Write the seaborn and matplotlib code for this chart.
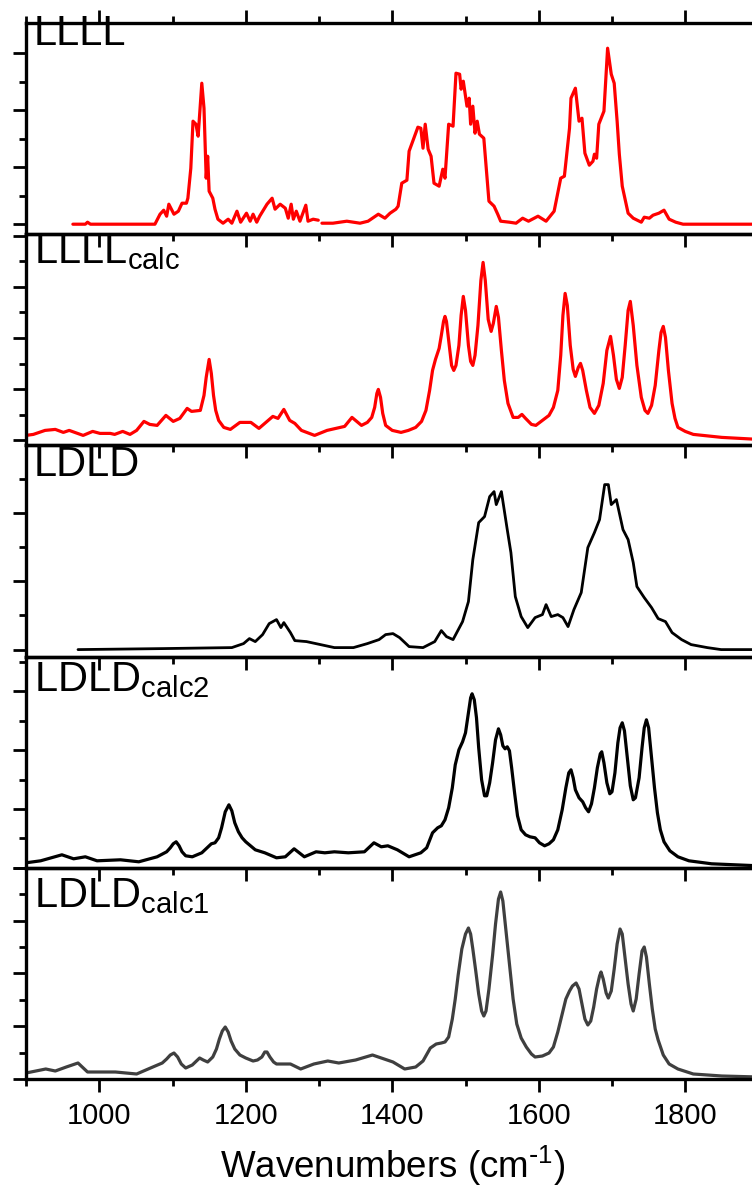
import matplotlib
matplotlib.use("Agg")
import matplotlib.pyplot as plt
from matplotlib.ticker import MultipleLocator, FixedLocator
import seaborn as sns
import pandas as pd

# ---- data (wavenumber, intensity in arbitrary units) ----
llll_a_x = [964, 981, 984, 988, 1076, 1083, 1088, 1092, 1095, 1102, 1108, 1113, 1119, 1121, 1125,
            1128, 1132, 1135, 1140, 1143, 1146, 1148, 1150, 1155, 1158, 1162, 1169, 1176, 1181,
            1188, 1193, 1201, 1206, 1210, 1215, 1219, 1229, 1236, 1240, 1247, 1254, 1258, 1262,
            1265, 1269, 1274, 1282, 1285, 1292, 1299]
llll_a_y = [10, 10, 12, 10, 10, 20, 24, 18, 30, 20, 23, 31, 31, 36, 66,
            113, 110, 98, 151, 126, 56, 78, 43, 36, 25, 15, 11, 15, 11,
            23, 12, 21, 13, 20, 12, 18, 30, 36, 25, 30, 26, 16, 30,
            15, 23, 13, 29, 13, 15, 14]
llll_b_x = [1304, 1319, 1338, 1356, 1367, 1381, 1390, 1397, 1405, 1408, 1413, 1420, 1423, 1430,
            1435, 1439, 1442, 1445, 1449, 1453, 1457, 1464, 1469, 1472, 1477, 1483, 1487, 1492,
            1494, 1497, 1502, 1505, 1507, 1510, 1513, 1516, 1519, 1525, 1529, 1532, 1539, 1544,
            1548, 1560, 1569, 1578, 1586, 1599, 1610, 1621, 1630, 1635, 1642, 1644, 1650, 1655,
            1659, 1663, 1669, 1674, 1676, 1679, 1682, 1689, 1694, 1699, 1703, 1707, 1710, 1714,
            1722, 1729, 1740, 1744, 1751, 1756, 1764, 1771, 1778, 1787, 1797, 1900]
llll_b_y = [11, 11, 13, 11, 13, 20, 16, 21, 25, 28, 51, 54, 83, 97,
            107, 106, 86, 110, 85, 78, 51, 48, 65, 56, 110, 108, 161, 160,
            145, 153, 128, 136, 110, 128, 101, 113, 100, 96, 60, 33, 28, 20,
            13, 12, 11, 16, 13, 18, 13, 23, 56, 58, 106, 136, 146, 113,
            116, 81, 69, 73, 80, 76, 110, 123, 186, 160, 151, 113, 80, 48,
            21, 16, 12, 17, 16, 19, 21, 24, 15, 12, 10, 10]

lcalc_x = [900, 910, 926, 940, 951, 959, 978, 991, 1001, 1015, 1021, 1032, 1042, 1051, 1061,
           1069, 1079, 1091, 1101, 1110, 1120, 1126, 1138, 1143, 1146, 1150, 1153, 1156, 1159,
           1163, 1170, 1179, 1192, 1207, 1218, 1237, 1244, 1252, 1260, 1267, 1276, 1294, 1311,
           1329, 1335, 1345, 1358, 1366, 1372, 1376, 1379, 1381, 1384, 1387, 1391, 1400, 1412,
           1422, 1432, 1440, 1446, 1451, 1455, 1459, 1464, 1467, 1470, 1472, 1474, 1477, 1481,
           1484, 1487, 1491, 1494, 1497, 1500, 1504, 1507, 1510, 1513, 1517, 1521, 1524, 1527,
           1531, 1535, 1538, 1542, 1545, 1549, 1553, 1558, 1565, 1572, 1577, 1582, 1590, 1596,
           1605, 1614, 1620, 1626, 1630, 1633, 1636, 1639, 1643, 1647, 1650, 1654, 1657, 1660,
           1665, 1670, 1676, 1682, 1688, 1693, 1698, 1702, 1706, 1710, 1714, 1718, 1722, 1725,
           1729, 1734, 1740, 1745, 1749, 1754, 1759, 1764, 1767, 1770, 1773, 1777, 1782, 1786,
           1790, 1800, 1811, 1850, 1900]
lcalc_y = [10, 11, 15, 16, 13, 15, 10, 14, 12, 12, 11, 14, 11, 15, 24,
           21, 20, 30, 24, 27, 37, 34, 35, 50, 68, 86, 72, 50, 35,
           25, 18, 16, 23, 23, 17, 29, 27, 36, 25, 22, 15, 10, 15,
           18, 19, 28, 20, 23, 28, 38, 52, 56, 48, 32, 20, 15, 13,
           15, 18, 24, 35, 55, 75, 86, 97, 110, 124, 129, 124, 105, 80,
           75, 80, 100, 130, 149, 135, 100, 84, 80, 90, 120, 165, 183, 165,
           126, 114, 122, 139, 128, 95, 65, 42, 28, 28, 31, 27, 21, 20,
           25, 30, 38, 55, 90, 130, 152, 140, 100, 76, 69, 78, 82, 75,
           55, 38, 32, 40, 62, 95, 109, 90, 66, 57, 68, 100, 135, 144,
           120, 80, 48, 35, 32, 40, 60, 95, 113, 119, 108, 75, 42, 27,
           18, 14, 11, 8, 6]

ldld_x = [971, 1086, 1181, 1197, 1205, 1213, 1223, 1232, 1242, 1248, 1252, 1261, 1267, 1283,
          1302, 1321, 1347, 1366, 1382, 1391, 1401, 1410, 1423, 1442, 1458, 1467, 1474, 1483,
          1496, 1504, 1510, 1518, 1526, 1533, 1539, 1542, 1549, 1557, 1562, 1568, 1576, 1585,
          1595, 1605, 1610, 1617, 1626, 1633, 1640, 1648, 1658, 1667, 1676, 1683, 1690, 1695,
          1699, 1706, 1715, 1722, 1729, 1734, 1744, 1754, 1763, 1773, 1782, 1795, 1808, 1830,
          1849, 1900]
ldld_y = [7, 8, 9, 13, 18, 15, 22, 33, 37, 29, 34, 24, 16, 15,
          12, 9, 9, 13, 17, 22, 23, 19, 10, 9, 15, 26, 20, 17,
          35, 55, 97, 134, 140, 160, 165, 152, 165, 127, 104, 60, 40, 29,
          39, 42, 52, 40, 42, 39, 30, 47, 64, 109, 124, 137, 172, 172,
          152, 157, 127, 117, 94, 70, 59, 49, 38, 35, 24, 17, 12, 9,
          7, 7]

calc2_x = [900, 920, 949, 965, 981, 997, 1029, 1054, 1079, 1092, 1097, 1101, 1105, 1109, 1113,
           1118, 1127, 1140, 1153, 1158, 1163, 1167, 1172, 1177, 1181, 1185, 1190, 1195, 1200,
           1213, 1226, 1242, 1254, 1266, 1280, 1296, 1308, 1321, 1340, 1362, 1375, 1385, 1394,
           1407, 1423, 1439, 1447, 1455, 1462, 1467, 1472, 1477, 1482, 1486, 1491, 1496, 1500,
           1504, 1507, 1509, 1512, 1515, 1518, 1522, 1526, 1529, 1533, 1537, 1541, 1545, 1548,
           1551, 1554, 1557, 1560, 1563, 1567, 1571, 1576, 1582, 1588, 1595, 1601, 1608, 1614,
           1620, 1626, 1632, 1637, 1641, 1644, 1647, 1650, 1655, 1660, 1664, 1668, 1672, 1676,
           1680, 1684, 1686, 1689, 1693, 1697, 1700, 1704, 1708, 1711, 1714, 1717, 1721, 1725,
           1729, 1732, 1737, 1741, 1744, 1747, 1750, 1754, 1758, 1762, 1766, 1771, 1779, 1790,
           1805, 1836, 1900]
calc2_y = [5, 7, 13, 9, 11, 7, 8, 6, 11, 16, 20, 24, 26, 22, 16,
           12, 11, 15, 24, 25, 30, 40, 56, 63, 57, 45, 36, 30, 26,
           18, 15, 10, 11, 19, 11, 16, 15, 16, 15, 16, 25, 21, 22,
           18, 11, 15, 20, 35, 40, 42, 48, 60, 80, 103, 118, 126, 135,
           155, 170, 174, 168, 150, 120, 88, 72, 72, 85, 105, 128, 139, 133,
           122, 119, 121, 117, 100, 75, 52, 38, 33, 31, 30, 25, 22, 24,
           28, 38, 58, 80, 95, 98, 90, 78, 70, 66, 60, 56, 64, 80,
           100, 114, 116, 105, 85, 74, 76, 95, 125, 140, 145, 137, 110, 82,
           68, 70, 90, 120, 140, 148, 140, 110, 80, 55, 38, 26, 17, 11,
           7, 4, 2]

calc1_x = [900, 927, 940, 955, 971, 984, 1022, 1051, 1070, 1086, 1092, 1097, 1102, 1107, 1112,
           1118, 1127, 1137, 1142, 1148, 1155, 1160, 1164, 1168, 1172, 1176, 1180, 1185, 1192,
           1200, 1210, 1216, 1222, 1226, 1229, 1233, 1238, 1242, 1261, 1275, 1293, 1312, 1327,
           1350, 1373, 1385, 1401, 1417, 1432, 1442, 1452, 1460, 1467, 1472, 1477, 1482, 1486,
           1490, 1495, 1500, 1504, 1507, 1510, 1514, 1518, 1522, 1525, 1528, 1532, 1537, 1541,
           1545, 1548, 1551, 1555, 1560, 1565, 1570, 1576, 1583, 1590, 1595, 1605, 1614, 1620,
           1626, 1632, 1637, 1642, 1646, 1651, 1655, 1659, 1663, 1667, 1671, 1675, 1679, 1683,
           1685, 1688, 1692, 1695, 1699, 1703, 1707, 1711, 1714, 1718, 1722, 1726, 1729, 1733,
           1737, 1741, 1744, 1747, 1751, 1755, 1759, 1763, 1770, 1778, 1790, 1811, 1850, 1900]
calc1_y = [6, 10, 8, 12, 16, 7, 7, 5, 11, 16, 20, 24, 26, 22, 15,
           11, 14, 21, 19, 17, 22, 30, 40, 48, 52, 47, 38, 30, 24,
           21, 18, 19, 22, 27, 27, 22, 17, 15, 15, 10, 15, 18, 16,
           19, 24, 21, 17, 10, 12, 18, 31, 35, 36, 37, 42, 60, 80,
           104, 130, 145, 151, 145, 130, 108, 85, 68, 63, 68, 90, 124, 155,
           180, 187, 178, 150, 115, 80, 55, 41, 32, 25, 22, 23, 26, 32,
           47, 65, 80, 88, 93, 96, 90, 75, 60, 54, 58, 72, 90, 103,
           107, 100, 86, 81, 88, 110, 135, 150, 145, 120, 95, 75, 68, 80,
           105, 128, 132, 122, 95, 70, 50, 39, 24, 15, 10, 5, 3, 2]

labels = ["LLLL", "LLLL$_{calc}$", "LDLD", "LDLD$_{calc2}$", "LDLD$_{calc1}$"]
colors = ["#ff0000", "#ff0000", "#000000", "#000000", "#3f3f3f"]
widths = [2.3, 2.3, 2.0, 2.3, 2.3]

# tick layout on the left axis of each panel: (first tick, spacing, count)
ytick_specs = [(10, 28.5, 7), (5, 25.6, 9), (7, 34.2, 7), (0, 29.4, 8), (0, 26.4, 9)]
label_drop = [22, 29, 31, 35, 39]

series = [
    [(llll_a_x, llll_a_y), (llll_b_x, llll_b_y)],
    [(lcalc_x, lcalc_y)],
    [(ldld_x, ldld_y)],
    [(calc2_x, calc2_y)],
    [(calc1_x, calc1_y)],
]

sns.set_style("ticks")
plt.rcParams["font.family"] = ["Liberation Sans", "DejaVu Sans"]
plt.rcParams["mathtext.default"] = "regular"
for k in ["text.color", "axes.labelcolor", "xtick.color", "ytick.color", "axes.edgecolor"]:
    plt.rcParams[k] = "black"

W, H = 752, 1189
fig = plt.figure(figsize=(W / 100, H / 100), dpi=100)

left = 26 / W
width = 732.5 / W
ph = 211.2

for i in range(5):
    top_px = 23 + ph * i
    ax = fig.add_axes([left, 1 - (top_px + ph) / H, width, ph / H])
    ax.set_facecolor("none")

    for xs, ys in series[i]:
        df = pd.DataFrame({"w": xs, "I": ys})
        sns.lineplot(data=df, x="w", y="I", ax=ax, color=colors[i],
                     linewidth=widths[i], estimator=None, sort=False)

    ax.set_xlim(900, 1900)
    ax.set_ylim(0, ph)
    ax.xaxis.set_major_locator(MultipleLocator(200))
    ax.xaxis.set_minor_locator(MultipleLocator(100))

    start, step, n = ytick_specs[i]
    pos = [start + step * k for k in range(n)]
    ax.yaxis.set_major_locator(FixedLocator(pos[0::2]))
    ax.yaxis.set_minor_locator(FixedLocator(pos[1::2]))

    for s in ["left", "top", "bottom"]:
        ax.spines[s].set_linewidth(2.4)
        ax.spines[s].set_color("black")
    ax.spines["right"].set_visible(False)

    ax.tick_params(axis="both", which="major", direction="out", length=9.5, width=2.0)
    ax.tick_params(axis="both", which="minor", direction="out", length=5, width=2.0)
    ax.tick_params(axis="y", which="both", left=True, right=False, labelleft=False)
    ax.tick_params(axis="x", which="both", bottom=True, top=(i == 0),
                   labelbottom=(i == 4), labelsize=21, pad=7)

    ax.set_ylabel("")
    ax.set_xlabel("")
    ax.text(0.011, 1 - label_drop[i] / ph, labels[i], transform=ax.transAxes,
            fontsize=30, ha="left", va="baseline")

    if i == 4:
        ax.set_xlabel(r"Wavenumbers (cm$^{\text{-}1}$)", fontsize=26.5, labelpad=10)

fig.savefig("out.png", dpi=100)
